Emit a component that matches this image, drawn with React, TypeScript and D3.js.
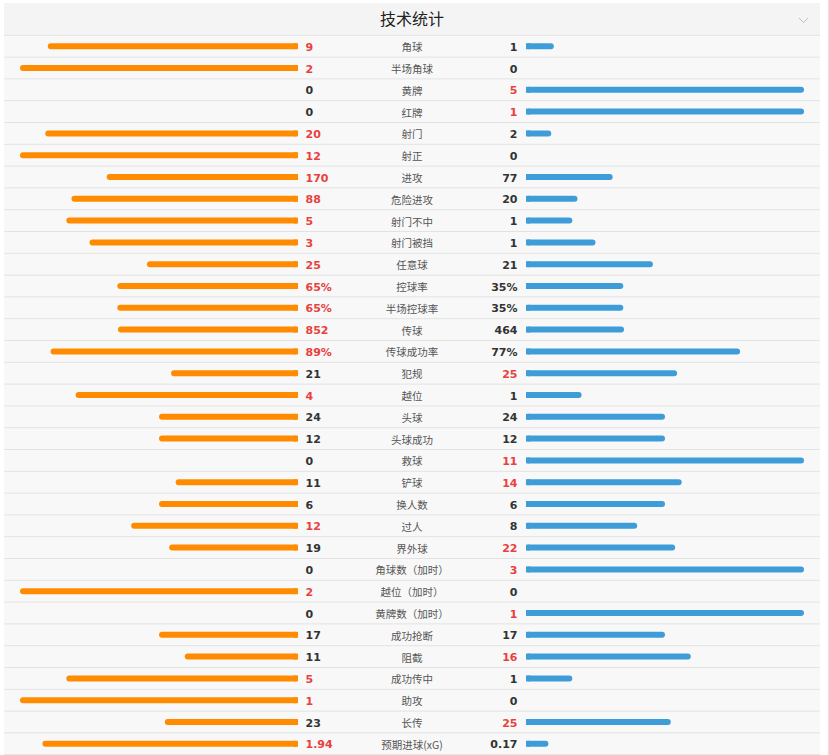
import React from "react";
import * as d3 from "d3";

const categories = [
  "角球", "半场角球", "黄牌", "红牌", "射门", "射正", "进攻", "危险进攻", "射门不中", "射门被挡",
  "任意球", "控球率", "半场控球率", "传球", "传球成功率", "犯规", "越位", "头球", "头球成功", "救球",
  "铲球", "换人数", "过人", "界外球", "角球数（加时）", "越位（加时）", "黄牌数（加时）", "成功抢断", "阻截", "成功传中",
  "助攻", "长传", "预期进球(xG)",
];
const homeValues = [9, 2, 0, 0, 20, 12, 170, 88, 5, 3, 25, 65, 65, 852, 89, 21, 4, 24, 12, 0, 11, 6, 12, 19, 0, 2, 0, 17, 11, 5, 1, 23, 1.94];
const awayValues = [1, 0, 5, 1, 2, 0, 77, 20, 1, 1, 21, 35, 35, 464, 77, 25, 1, 24, 12, 11, 14, 6, 8, 22, 3, 0, 1, 17, 16, 1, 0, 25, 0.17];
const percentCategories = ["控球率", "半场控球率", "传球成功率"];
const title = "技术统计";

const W = 829;
const H = 755;
const ORANGE = "#ff8c00";
const BLUE = "#3e9dd8";
const RED = "#e8413e";
const DARK = "#333";

export default function App() {
  const left = 4, right = 820;
  const headerTop = 3, headerBottom = 35.3;
  const rowH = 21.8;
  const y = d3.scaleLinear().domain([0, 1]).range([headerBottom, headerBottom + rowH]);
  const leftEnd = 298, rightStart = 526, barMax = 278;
  const w = d3.scaleLinear().domain([0, 1]).range([0, barMax]);
  const barH = 6, r = 3;
  const centerX = 412;

  const fmt = (v: number, pct: boolean) => (pct ? `${v}%` : `${v}`);

  return (
    <svg width={W} height={H} style={{ position: "absolute", left: 0, top: 0 }}
      fontFamily="'Noto Sans CJK SC', 'DejaVu Sans', sans-serif">
      <rect x={0} y={0} width={W} height={H} fill="#fff" />
      <rect x={left} y={headerTop} width={right - left} height={headerBottom - headerTop} fill="#f4f4f4" />
      <rect x={left} y={headerBottom} width={right - left} height={H - headerBottom} fill="#f8f8f8" />
      <line x1={828.5} x2={828.5} y1={0} y2={H} stroke="#e2e2e2" />
      <text x={centerX} y={25} textAnchor="middle" fontSize={16} fill="#222">{title}</text>
      <polyline points="799,18 803.5,22.5 808,18" fill="none" stroke="#bdbdbd" strokeWidth={1} />
      {categories.map((c, i) => {
        const pct = percentCategories.includes(c);
        const h = homeValues[i], a = awayValues[i];
        const total = h + a;
        const hf = pct ? h / 100 : total > 0 ? h / total : 0;
        const af = pct ? a / 100 : total > 0 ? a / total : 0;
        const hw = w(hf), aw = w(af);
        const top = y(i);
        const cy = top + rowH / 2;
        const hColor = h > a ? RED : DARK;
        const aColor = a > h ? RED : DARK;
        return (
          <g key={c}>
            <line x1={left} x2={right} y1={top + rowH} y2={top + rowH} stroke="#e3e3e3" strokeWidth={1} />
            {i === 0 && <line x1={left} x2={right} y1={top} y2={top} stroke="#e3e3e3" strokeWidth={1} />}
            {hw > 0 && (
              <g fill={ORANGE}>
                <rect x={leftEnd - hw} y={cy - barH / 2} width={hw} height={barH} rx={r} />
                <rect x={leftEnd - Math.min(hw, r + 1)} y={cy - barH / 2} width={Math.min(hw, r + 1)} height={barH} />
              </g>
            )}
            {aw > 0 && (
              <g fill={BLUE}>
                <rect x={rightStart} y={cy - barH / 2} width={aw} height={barH} rx={r} />
                <rect x={rightStart} y={cy - barH / 2} width={Math.min(aw, r + 1)} height={barH} />
              </g>
            )}
            <text x={305.5} y={cy + 4.5} fontSize={11} fontWeight="bold" fontFamily="'DejaVu Sans', sans-serif" fill={hColor}>{fmt(h, pct)}</text>
            <text x={517.5} y={cy + 4.5} textAnchor="end" fontSize={11} fontWeight="bold" fontFamily="'DejaVu Sans', sans-serif" fill={aColor}>{fmt(a, pct)}</text>
            <text x={centerX} y={cy + 5} textAnchor="middle" fontSize={10.5} fill="#555">{c}</text>
          </g>
        );
      })}
    </svg>
  );
}
